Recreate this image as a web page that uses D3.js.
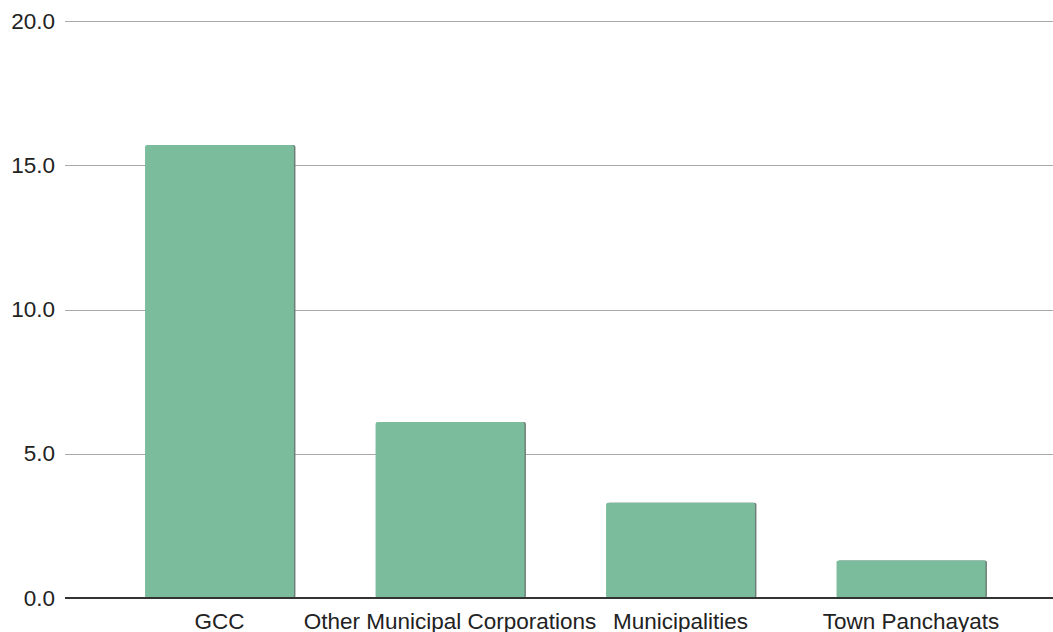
<!DOCTYPE html>
<html>
<head>
<meta charset="utf-8">
<script src="https://cdn.jsdelivr.net/npm/d3@7"></script>
<style>
  html, body { margin: 0; padding: 0; background: #fff; }
  svg { display: block; }
  text { font-family: "Liberation Sans", Arial, sans-serif; fill: #222; }
</style>
</head>
<body>
<svg id="chart" width="1053" height="632"></svg>
<script>
// Urban local body categories and their values
const categories = ["GCC", "Other Municipal Corporations", "Municipalities", "Town Panchayats"];
const values = [15.7, 6.1, 3.3, 1.3];
const yTicks = [0, 5, 10, 15, 20];

const svg = d3.select("#chart");
const W = 1053, H = 632;
const plotLeft = 65, plotRight = W;
const fontSize = 22.5;

const y = d3.scaleLinear().domain([0, 20]).range([598, 21]);
const x = d3.scaleBand()
  .domain(categories)
  .range([104.25, 1026.25])
  .paddingInner(0.354)
  .paddingOuter(0.177);

// Horizontal gridlines
svg.append("g")
  .selectAll("line")
  .data(yTicks.filter(d => d !== 0))
  .join("line")
  .attr("x1", plotLeft)
  .attr("x2", plotRight)
  .attr("y1", d => Math.round(y(d)) + 0.5)
  .attr("y2", d => Math.round(y(d)) + 0.5)
  .attr("stroke", "#a8a8a8")
  .attr("stroke-width", 1.2);

// Y axis tick labels
const yAxis = d3.axisLeft(y).tickValues(yTicks).tickFormat(d3.format(".1f")).tickSize(0).tickPadding(0);
const gy = svg.append("g").attr("transform", `translate(55,0)`).call(yAxis);
gy.select(".domain").remove();
gy.selectAll("text")
  .attr("font-size", fontSize)
  .attr("fill", "#222")
  .attr("font-family", "Liberation Sans, Arial, sans-serif");

// Bars with a soft shadow on the right edge
const bars = svg.append("g");
bars.selectAll("rect.shadow")
  .data(categories)
  .join("rect")
  .attr("class", "shadow")
  .attr("x", d => x(d) + 1.5)
  .attr("y", (d, i) => y(values[i]))
  .attr("width", x.bandwidth())
  .attr("height", (d, i) => y(0) - y(values[i]))
  .attr("rx", 2)
  .attr("fill", "#6f7f77");
bars.selectAll("rect.bar")
  .data(categories)
  .join("rect")
  .attr("class", "bar")
  .attr("x", d => x(d))
  .attr("y", (d, i) => y(values[i]))
  .attr("width", x.bandwidth())
  .attr("height", (d, i) => y(0) - y(values[i]))
  .attr("rx", 2)
  .attr("fill", "#7bbc9d");

// Baseline
svg.append("line")
  .attr("x1", plotLeft)
  .attr("x2", plotRight)
  .attr("y1", y(0))
  .attr("y2", y(0))
  .attr("stroke", "#333")
  .attr("stroke-width", 2);

// Category labels
const xAxis = d3.axisBottom(x).tickSize(0).tickPadding(0);
const gx = svg.append("g").attr("transform", `translate(0,${y(0) + 15})`).call(xAxis);
gx.select(".domain").remove();
gx.selectAll("text")
  .attr("font-size", fontSize)
  .attr("fill", "#222")
  .attr("font-family", "Liberation Sans, Arial, sans-serif");
</script>
</body>
</html>
